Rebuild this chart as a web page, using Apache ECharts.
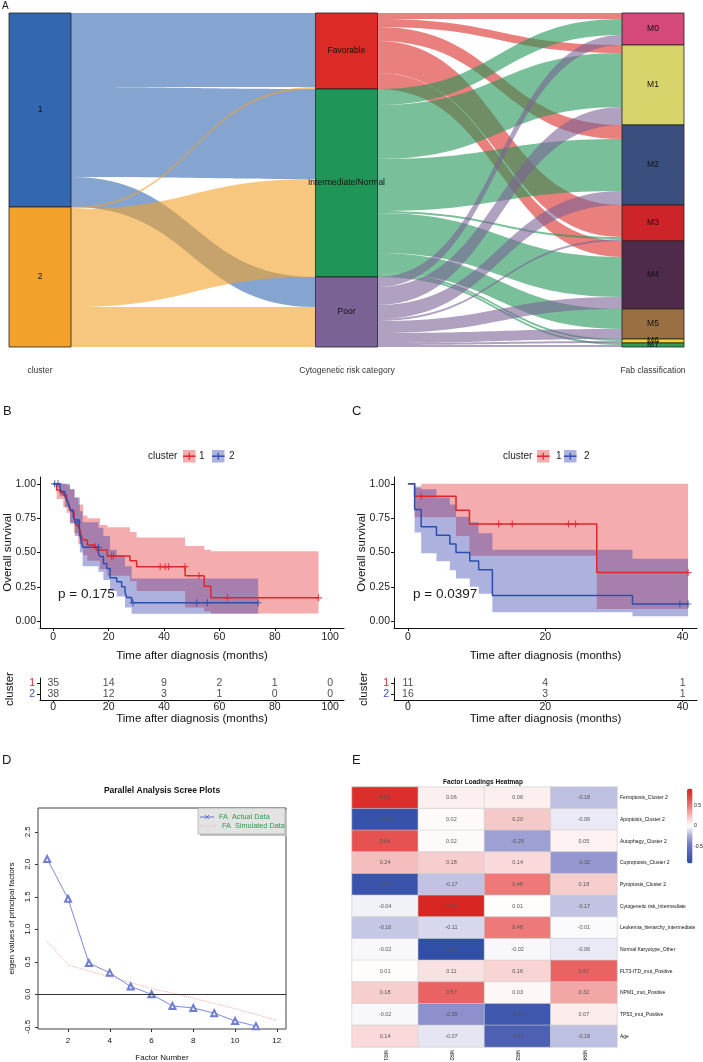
<!DOCTYPE html>
<html>
<head>
<meta charset="utf-8">
<script src="https://cdn.jsdelivr.net/npm/echarts@6/dist/echarts.min.js"></script>
<style>
html, body { margin: 0; padding: 0; background: #fff; }
#chart { width: 703px; height: 1062px; }
</style>
</head>
<body>
<div id="chart"></div>
<script>
var FONT = '"Liberation Sans", Arial, Helvetica, sans-serif';

// ---------- A: alluvial (patient counts) ----------
var clusterNodes = ['1', '2'];
var riskNodes = ['Favorable', 'Intermediate/Normal', 'Poor'];
var fabNodes = ['M0', 'M1', 'M2', 'M3', 'M4', 'M5', 'M6', 'M7'];
var clusterRiskLinks = [
  ['1', 'Favorable', 37], ['1', 'Intermediate/Normal', 45], ['1', 'Poor', 15],
  ['2', 'Favorable', 1], ['2', 'Intermediate/Normal', 49], ['2', 'Poor', 20]
];
var riskFabLinks = [
  ['Favorable', 'M0', 3], ['Favorable', 'M1', 4], ['Favorable', 'M2', 7], ['Favorable', 'M3', 16], ['Favorable', 'M4', 8],
  ['Intermediate/Normal', 'M0', 8], ['Intermediate/Normal', 'M1', 27], ['Intermediate/Normal', 'M2', 26],
  ['Intermediate/Normal', 'M3', 1], ['Intermediate/Normal', 'M4', 20], ['Intermediate/Normal', 'M5', 10],
  ['Intermediate/Normal', 'M6', 1], ['Intermediate/Normal', 'M7', 1],
  ['Poor', 'M0', 5], ['Poor', 'M1', 9], ['Poor', 'M2', 7], ['Poor', 'M3', 1], ['Poor', 'M4', 6],
  ['Poor', 'M5', 5], ['Poor', 'M6', 1], ['Poor', 'M7', 1]
];
var nodeColors = {
  '1': '#3367b0', '2': '#f2a12a',
  'Favorable': '#dc2b27', 'Intermediate/Normal': '#1f9657', 'Poor': '#7a6394',
  'M0': '#d4487c', 'M1': '#d6d46a', 'M2': '#3a4f7e', 'M3': '#cc2428',
  'M4': '#4f2b4b', 'M5': '#9a6f42', 'M6': '#f2d230', 'M7': '#2f9e5a'
};

// ---------- B: KM, all patients ----------
var kmB1 = [[0,1],[1.2,0.956],[2.4,0.937],[3.6,0.92],[4.8,0.895],[5.4,0.858],[6.0,0.822],[6.6,0.798],
  [7.5,0.749],[8.2,0.70],[9.0,0.684],[9.6,0.665],[10.2,0.617],[10.8,0.591],[12.3,0.555],[15.0,0.543],
  [15.7,0.518],[19.5,0.474],[27.7,0.44],[30.1,0.397],[47.6,0.331],[54.5,0.255],[56.9,0.17],[95.8,0.17]];
var kmB2 = [[0,1],[2.4,0.968],[3.0,0.944],[4.2,0.908],[4.8,0.883],[5.4,0.859],[6.0,0.81],[7.2,0.762],
  [7.8,0.737],[9.4,0.689],[9.6,0.628],[10.0,0.591],[10.6,0.538],[16.3,0.494],[16.9,0.47],[18.1,0.42],
  [19.3,0.383],[20.5,0.316],[22.9,0.287],[24.7,0.251],[25.9,0.214],[26.5,0.173],[28.3,0.134],[74,0.134]];
var censB1 = [[15.0,0.543],[21.0,0.474],[21.7,0.474],[38.6,0.397],[40.4,0.397],[41.6,0.397],[47.6,0.397],[52.6,0.331],[62.9,0.17],[95.8,0.17]];
var censB2 = [[0.5,1],[1.7,1],[8.7,0.72],[16.3,0.538],[28.8,0.134],[51.8,0.134],[55.6,0.134],[74,0.134]];
// [start time, lower, upper]
var ciB1 = [[0,1,1],[1.2,0.89,1],[3.6,0.83,1],[4.8,0.79,0.99],[6.0,0.72,0.96],[7.5,0.64,0.90],[9.0,0.56,0.85],
  [10.8,0.48,0.77],[12.3,0.44,0.75],[16.9,0.38,0.70],[19.5,0.33,0.684],[27.7,0.29,0.65],[30.1,0.22,0.61],
  [47.6,0.10,0.547],[54.5,0.07,0.52],[56.9,0.056,0.51]];
var ciB2 = [[0,1,1],[2.4,0.91,1],[4.2,0.83,1],[6.0,0.71,0.96],[7.8,0.62,0.90],[9.6,0.50,0.80],[10.6,0.40,0.72],
  [16.3,0.36,0.68],[18.1,0.30,0.62],[20.5,0.22,0.52],[22.9,0.18,0.48],[25.9,0.10,0.40],[28.3,0.054,0.31]];
var riskTimesB = [0, 20, 40, 60, 80, 100];
var riskB1 = [35, 14, 9, 2, 1, 0];
var riskB2 = [38, 12, 3, 1, 0, 0];

// ---------- C: KM, subgroup ----------
var kmC1 = [[0,1],[0.97,0.909],[7.0,0.808],[8.96,0.707],[27.5,0.354],[40.8,0.354]];
var kmC2 = [[0,1],[0.97,0.8125],[1.93,0.6875],[4.15,0.625],[6.1,0.5625],[7.0,0.5],[9.0,0.4375],
  [10.3,0.375],[12.3,0.1875],[32.7,0.125],[40.8,0.125]];
var censC1 = [[1.93,0.909],[13.2,0.707],[15.2,0.707],[23.4,0.707],[24.4,0.707],[40.8,0.354]];
var censC2 = [[39.6,0.125],[40.8,0.125]];
var ciC1 = [[0,1,1],[0.97,0.757,0.97],[1.93,0.757,1],[7.0,0.62,1],[8.96,0.477,1],[27.5,0.088,1]];
var ciC2 = [[0,1,1],[0.97,0.645,0.98],[1.93,0.494,0.96],[4.15,0.436,0.90],[6.1,0.37,0.85],[7.0,0.31,0.76],
  [9.0,0.25,0.72],[10.3,0.20,0.64],[12.3,0.065,0.52],[32.7,0.036,0.455]];
var riskTimesC = [0, 20, 40];
var riskC1 = [11, 4, 1];
var riskC2 = [16, 3, 1];

// ---------- D: scree ----------
var factorNums = [1, 2, 3, 4, 5, 6, 7, 8, 9, 10, 11];
var actualEig = [2.08, 1.47, 0.48, 0.33, 0.12, 0.0, -0.18, -0.21, -0.29, -0.41, -0.49];
var simFactorNums = [1, 2, 3, 4, 5, 6, 7, 8, 9, 10, 11, 12];
var simEig = [0.82, 0.45, 0.36, 0.27, 0.18, 0.09, 0.02, -0.06, -0.14, -0.22, -0.31, -0.40];

// ---------- E: factor loadings ----------
var factorNames = ['MR1', 'MR2', 'MR3', 'MR4'];
var loadingRows = ['Ferroptosis_Cluster 2', 'Apoptosis_Cluster 2', 'Autophagy_Cluster 2', 'Cuproptosis_Cluster 2',
  'Pyroptosis_Cluster 2', 'Cytogenetic risk_intermediate', 'Leukemia_hierarchy_intermediate', 'Normal Karyotype_Other',
  'FLT3-ITD_mut_Positive', 'NPM1_mut_Positive', 'TP53_mut_Positive', 'Age'];
var loadings = [
  [0.84, 0.06, 0.06, -0.18],
  [-0.83, 0.02, 0.20, -0.06],
  [0.64, 0.02, -0.29, 0.05],
  [0.24, 0.18, 0.14, -0.32],
  [-0.80, -0.17, 0.48, 0.18],
  [-0.04, 0.90, 0.01, -0.17],
  [-0.16, -0.11, 0.48, -0.01],
  [-0.02, -0.87, -0.02, -0.06],
  [0.01, 0.11, 0.16, 0.57],
  [0.18, 0.57, 0.03, 0.32],
  [-0.02, -0.35, -0.77, 0.07],
  [0.14, -0.07, -0.67, -0.18]
];

var RED = '#e0262b', BLUE = '#2b4fae';
var RED_CI = 'rgba(228,38,43,0.38)', BLUE_CI = 'rgba(50,60,170,0.40)';
var PLUS = 'path://M0,5L10,5M5,0L5,10';

function txt(x, y, s, size, o) {
  o = o || {};
  return {
    type: 'text', silent: true, rotation: o.rot || 0, x: x, y: y,
    style: {
      text: s, x: 0, y: 0, fill: o.color || '#1a1a1a',
      font: (o.bold ? 'bold ' : '') + size + 'px ' + FONT,
      textAlign: o.align || 'left', textVerticalAlign: 'middle'
    }
  };
}

function bandSeries(band, endT, fill, ai) {
  return {
    type: 'custom', xAxisIndex: ai, yAxisIndex: ai, silent: true, z: 1,
    data: band, encode: { x: 0, y: [1, 2] },
    renderItem: function (params, api) {
      if (params.dataIndex !== 0) return null;
      var top = [], bot = [];
      for (var i = 0; i < band.length; i++) {
        var t0 = band[i][0], t1 = i + 1 < band.length ? band[i + 1][0] : endT;
        top.push(api.coord([t0, band[i][2]]), api.coord([t1, band[i][2]]));
        bot.push(api.coord([t0, band[i][1]]), api.coord([t1, band[i][1]]));
      }
      return { type: 'polygon', shape: { points: top.concat(bot.reverse()) }, style: { fill: fill } };
    }
  };
}

function kmLine(data, color, ai) {
  return { type: 'line', xAxisIndex: ai, yAxisIndex: ai, data: data, step: 'end', symbol: 'none',
    lineStyle: { color: color, width: 1.5 }, z: 3, silent: true };
}

function censor(data, color, ai) {
  return { type: 'scatter', xAxisIndex: ai, yAxisIndex: ai, data: data, symbol: PLUS, symbolSize: 7,
    itemStyle: { color: 'transparent', borderColor: color, borderWidth: 1.2 }, z: 4, silent: true };
}

function riskSeries(times, counts, row, ai) {
  return {
    type: 'scatter', xAxisIndex: ai, yAxisIndex: ai, silent: true, symbolSize: 1,
    itemStyle: { color: 'transparent' },
    data: times.map(function (t, i) { return [t, row, counts[i]]; }),
    label: { show: true, position: 'inside', color: '#1a1a1a', fontSize: 10.5, fontFamily: FONT,
      formatter: function (p) { return String(p.value[2]); } }
  };
}

var axisBlack = { show: true, onZero: false, lineStyle: { color: '#111', width: 1 } };
var tickFont = { color: '#222', fontSize: 10.5, fontFamily: FONT };

function kmXAxis(gi, min, max, ticks, nameGap, margin, tickLen) {
  return {
    type: 'value', gridIndex: gi, min: min, max: max,
    axisLine: axisBlack, splitLine: { show: false },
    axisTick: { show: true, length: tickLen, customValues: ticks, lineStyle: { color: '#111' } },
    axisLabel: Object.assign({ margin: margin, customValues: ticks }, tickFont),
    name: 'Time after diagnosis (months)', nameLocation: 'middle', nameGap: nameGap, nameMoveOverlap: false,
    nameTextStyle: { color: '#111', fontSize: 11.5, fontFamily: FONT, verticalAlign: 'top' }
  };
}

function kmYAxis(gi) {
  var t = [0, 0.25, 0.5, 0.75, 1];
  return {
    type: 'value', gridIndex: gi, min: -0.05, max: 1.05,
    axisLine: axisBlack, splitLine: { show: false },
    axisTick: { show: true, length: 3, customValues: t, lineStyle: { color: '#111' } },
    axisLabel: Object.assign({ margin: 4, customValues: t, formatter: function (v) { return v.toFixed(2); } }, tickFont),
    name: 'Overall survival', nameLocation: 'middle', nameGap: 26, nameMoveOverlap: false,
    nameTextStyle: { color: '#111', fontSize: 11.5, fontFamily: FONT }
  };
}

function tableYAxis(gi) {
  return {
    type: 'category', gridIndex: gi, data: ['2', '1'],
    axisLine: axisBlack, axisTick: { show: true, length: 3, alignWithLabel: true, interval: 0, lineStyle: { color: '#111' } },
    axisLabel: {
      margin: 5, interval: 0, fontFamily: FONT,
      formatter: function (v) { return v === '1' ? '{r|1}' : '{b|2}'; },
      rich: { r: { color: RED, fontSize: 10.5, fontFamily: FONT }, b: { color: '#3a55c0', fontSize: 10.5, fontFamily: FONT } }
    },
    name: 'cluster', nameLocation: 'middle', nameGap: 24, nameMoveOverlap: false,
    nameTextStyle: { color: '#111', fontSize: 11.5, fontFamily: FONT }
  };
}

// sankey nodes / links
var sankeyNodes = clusterNodes.concat(riskNodes, fabNodes).map(function (n) {
  return { name: n, itemStyle: { color: nodeColors[n] } };
});
var sankeyLinks = clusterRiskLinks.concat(riskFabLinks).map(function (l) {
  return { source: l[0], target: l[1], value: l[2] };
});

// heatmap cells
var heatData = [];
loadings.forEach(function (row, r) {
  row.forEach(function (v, c) { heatData.push([c, r, v]); });
});
var HEAT_MIN = -0.9, HEAT_MAX = 0.9, BAR_TOP = 788.5, BAR_H = 75;
function barY(v) { return BAR_TOP + (HEAT_MAX - v) / (HEAT_MAX - HEAT_MIN) * BAR_H; }

var graphics = [
  txt(2, 6, 'A', 10),
  txt(40, 371, 'cluster', 8.5, { align: 'center', color: '#333' }),
  txt(347, 371, 'Cytogenetic risk category', 8.5, { align: 'center', color: '#333' }),
  txt(653, 371, 'Fab classification', 8.5, { align: 'center', color: '#333' }),
  txt(3, 411, 'B', 13), txt(352, 411, 'C', 13),
  txt(2, 760, 'D', 13), txt(352, 760, 'E', 13),
  txt(58, 594, 'p = 0.175', 13.5),
  txt(413, 594, 'p = 0.0397', 13.5),
  txt(162, 791, 'Parallel Analysis Scree Plots', 8.5, { align: 'center', bold: true, color: '#111' }),
  txt(483, 782, 'Factor Loadings Heatmap', 6.5, { align: 'center', bold: true, color: '#111' })
];

// KM legends
function kmLegend(x0, xs) {
  var g = [txt(x0, 456, 'cluster', 10, { color: '#222' })];
  [[xs[0], RED, '#f5acae', '1', xs[1]], [xs[2], BLUE, '#adb1dd', '2', xs[3]]].forEach(function (k) {
    g.push({ type: 'rect', silent: true, shape: { x: k[0], y: 450, width: 12.5, height: 12.5 }, style: { fill: k[2] } });
    g.push({ type: 'line', silent: true, shape: { x1: k[0], y1: 456.2, x2: k[0] + 12.5, y2: 456.2 }, style: { stroke: k[1], lineWidth: 1.5 } });
    g.push({ type: 'line', silent: true, shape: { x1: k[0] + 6.25, y1: 452.7, x2: k[0] + 6.25, y2: 459.7 }, style: { stroke: k[1], lineWidth: 1.2 } });
    g.push(txt(k[4], 456, k[3], 10, { color: '#222' }));
  });
  return g;
}
graphics = graphics.concat(kmLegend(148, [183, 199, 212, 229]), kmLegend(503, [537, 556, 564, 584]));

// scree legend box
graphics.push({ type: 'rect', silent: true, shape: { x: 200, y: 810, width: 87, height: 26 }, style: { fill: '#c4c4c4' } });
graphics.push({ type: 'rect', silent: true, shape: { x: 198, y: 808, width: 87, height: 26 }, style: { fill: '#e3e3e3', stroke: '#9a9a9a', lineWidth: 0.6 } });
graphics.push({ type: 'line', silent: true, shape: { x1: 200, y1: 817, x2: 214, y2: 817 }, style: { stroke: '#6675cf', lineWidth: 1 } });
graphics.push({ type: 'line', silent: true, shape: { x1: 205, y1: 815, x2: 209, y2: 819 }, style: { stroke: '#6675cf', lineWidth: 1 } });
graphics.push({ type: 'line', silent: true, shape: { x1: 205, y1: 819, x2: 209, y2: 815 }, style: { stroke: '#6675cf', lineWidth: 1 } });
graphics.push({ type: 'line', silent: true, shape: { x1: 200, y1: 826, x2: 216, y2: 826 }, style: { stroke: '#f2a0a0', lineWidth: 1, lineDash: [1, 2] } });
graphics.push(txt(219, 817, 'FA  Actual Data', 7.3, { color: '#2e9a4a' }));
graphics.push(txt(222, 826, 'FA  Simulated Data', 7.3, { color: '#2e9a4a' }));

// colour bar labels
[0.5, 0, -0.5].forEach(function (v) {
  graphics.push(txt(694, barY(v), String(v), 5.2, { color: '#222' }));
});

var option = {
  animation: false,
  backgroundColor: '#fff',
  textStyle: { fontFamily: FONT },
  grid: [
    { left: 40, top: 477, width: 304, height: 151, outerBoundsMode: 'none' },
    { left: 394, top: 477, width: 303, height: 151, outerBoundsMode: 'none' },
    { left: 40, top: 678, width: 304, height: 22, outerBoundsMode: 'none' },
    { left: 394, top: 678, width: 303, height: 22, outerBoundsMode: 'none' },
    { left: 38, top: 808, width: 248, height: 221, show: true, borderColor: '#444', borderWidth: 1, outerBoundsMode: 'none' },
    { left: 352, top: 787, width: 265, height: 260, outerBoundsMode: 'none' }
  ],
  xAxis: [
    kmXAxis(0, -4.8, 105, riskTimesB, 22, 4, 3),
    kmXAxis(1, -2.03, 42.1, riskTimesC, 22, 4, 3),
    kmXAxis(2, -4.8, 105, riskTimesB, 13, 2, 2),
    kmXAxis(3, -2.03, 42.1, riskTimesC, 13, 2, 2),
    {
      type: 'value', gridIndex: 4, min: 0.56, max: 12.44,
      axisLine: { show: false, onZero: false }, splitLine: { show: false },
      axisTick: { show: true, length: 3, customValues: [2, 4, 6, 8, 10, 12], lineStyle: { color: '#333' } },
      axisLabel: { margin: 8, customValues: [2, 4, 6, 8, 10, 12], color: '#111', fontSize: 8, fontFamily: FONT },
      name: 'Factor Number', nameLocation: 'middle', nameGap: 25, nameMoveOverlap: false,
      nameTextStyle: { color: '#111', fontSize: 8, fontFamily: FONT }
    },
    {
      type: 'category', gridIndex: 5, data: factorNames, position: 'bottom',
      axisLine: { show: false }, axisTick: { show: false },
      axisLabel: { rotate: -90, margin: 3, color: '#111', fontSize: 5, fontFamily: FONT }
    }
  ],
  yAxis: [
    kmYAxis(0), kmYAxis(1), tableYAxis(2), tableYAxis(3),
    {
      type: 'value', gridIndex: 4, min: -0.534, max: 2.866,
      axisLine: { show: false, onZero: false }, splitLine: { show: false },
      axisTick: { show: true, length: 3, customValues: [-0.5, 0, 0.5, 1, 1.5, 2, 2.5], lineStyle: { color: '#333' } },
      axisLabel: { margin: 6, rotate: 90, customValues: [-0.5, 0, 0.5, 1, 1.5, 2, 2.5], color: '#111', fontSize: 8,
        fontFamily: FONT, formatter: function (v) { return v.toFixed(1); } },
      name: 'eigen values of principal factors', nameLocation: 'middle', nameGap: 22, nameMoveOverlap: false,
      nameTextStyle: { color: '#111', fontSize: 8, fontFamily: FONT }
    },
    {
      type: 'category', gridIndex: 5, data: loadingRows, inverse: true, position: 'right',
      axisLine: { show: false }, axisTick: { show: false },
      axisLabel: { margin: 3, interval: 0, color: '#111', fontSize: 5, fontFamily: FONT }
    }
  ],
  visualMap: {
    type: 'continuous', seriesIndex: 19, min: HEAT_MIN, max: HEAT_MAX, calculable: false,
    orient: 'vertical', left: 687, top: BAR_TOP, itemWidth: 5.5, itemHeight: BAR_H, padding: 0,
    text: null, showLabel: false, hoverLink: false,
    inRange: { color: ['#2b4ca5', '#4d5fb2', '#7377c2', '#aeb0da', '#ffffff', '#f5c2c2', '#ee8080', '#e44a48', '#d92522'] }
  },
  graphic: graphics,
  series: [
    // 0 sankey
    {
      type: 'sankey', left: 9, top: 13, width: 675, height: 334,
      nodeWidth: 62, nodeGap: 0, layoutIterations: 0, draggable: false, silent: true,
      emphasis: { disabled: true },
      label: { position: 'inside', color: '#111', fontSize: 8.5, fontFamily: FONT },
      itemStyle: { borderColor: '#222', borderWidth: 0.8 },
      lineStyle: { color: 'source', opacity: 0.6, curveness: 0.5 },
      data: sankeyNodes, links: sankeyLinks
    },
    // 1-8 panel B
    bandSeries(ciB1, 95.8, RED_CI, 0),
    bandSeries(ciB2, 74, BLUE_CI, 0),
    kmLine(kmB1, RED, 0), kmLine(kmB2, BLUE, 0),
    censor(censB1, RED, 0), censor(censB2, BLUE, 0),
    riskSeries(riskTimesB, riskB1, '1', 2), riskSeries(riskTimesB, riskB2, '2', 2),
    // 9-16 panel C
    bandSeries(ciC1, 40.8, RED_CI, 1),
    bandSeries(ciC2, 40.8, BLUE_CI, 1),
    kmLine(kmC1, RED, 1), kmLine(kmC2, BLUE, 1),
    censor(censC1, RED, 1), censor(censC2, BLUE, 1),
    riskSeries(riskTimesC, riskC1, '1', 3), riskSeries(riskTimesC, riskC2, '2', 3),
    // 17-18 panel D
    {
      type: 'line', xAxisIndex: 4, yAxisIndex: 4, silent: true,
      data: simFactorNums.map(function (f, i) { return [f, simEig[i]]; }),
      symbol: 'none', lineStyle: { color: '#f4a8a8', width: 1, type: 'dotted' }, z: 2
    },
    {
      type: 'line', xAxisIndex: 4, yAxisIndex: 4, silent: true,
      data: factorNums.map(function (f, i) { return [f, actualEig[i]]; }),
      symbol: 'emptyTriangle', symbolSize: 6,
      itemStyle: { color: '#6e7dd2', borderWidth: 0.9 }, lineStyle: { color: '#6e7dd2', width: 0.9 }, z: 3,
      markLine: { silent: true, symbol: 'none', label: { show: false }, animation: false,
        lineStyle: { color: '#333', width: 1, type: 'solid' }, data: [{ yAxis: 0 }] }
    },
    // 19 panel E
    {
      type: 'heatmap', xAxisIndex: 5, yAxisIndex: 5, data: heatData, silent: true,
      itemStyle: { borderColor: '#cfcfcf', borderWidth: 0.6 },
      label: { show: true, color: '#555', fontSize: 5.5, fontFamily: FONT,
        formatter: function (p) { return p.value[2].toFixed(2); } }
    }
  ]
};

var chart = echarts.init(document.getElementById('chart'), null, { renderer: 'canvas' });
chart.setOption(option);
</script>
</body>
</html>
